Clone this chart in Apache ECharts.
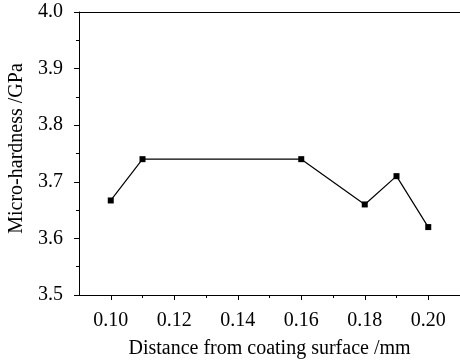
<!DOCTYPE html>
<html>
<head>
<meta charset="utf-8">
<script src="https://cdn.jsdelivr.net/npm/echarts@6/dist/echarts.min.js"></script>
<style>
html,body{margin:0;padding:0;background:#fff;}
#c{width:460px;height:360px;}
</style>
</head>
<body>
<div id="c"></div>
<script>
var distances = [0.10, 0.11, 0.16, 0.18, 0.19, 0.20];
var hardness = [3.667, 3.74, 3.74, 3.66, 3.71, 3.62];
var xMajorTicks = [0.10, 0.12, 0.14, 0.16, 0.18, 0.20];
var xMinorTicks = [0.11, 0.13, 0.15, 0.17, 0.19];
var xTitle = 'Distance from coating surface /mm';
var yTitle = 'Micro-hardness /GPa';

var font = 'Liberation Serif';
var black = '#000';
var chart = echarts.init(document.getElementById('c'), null, {renderer: 'canvas'});
var data = distances.map(function (d, i) { return [d, hardness[i]]; });

chart.setOption({
  animation: false,
  backgroundColor: '#fff',
  grid: {left: 79, right: 0, top: 12, bottom: 65, containLabel: false, outerBoundsMode: 'none'},
  xAxis: [
    {
      type: 'value', min: 0.09, max: 0.21, position: 'bottom',
      axisLine: {show: true, lineStyle: {color: black, width: 1}},
      axisTick: {show: true, length: 5, customValues: xMajorTicks, lineStyle: {color: black}},
      axisLabel: {show: true, customValues: xMajorTicks, margin: 16,
        formatter: function (v) { return v.toFixed(2); },
        fontFamily: font, fontSize: 20, color: black},
      splitLine: {show: false},
      name: xTitle, nameLocation: 'middle', nameGap: 44,
      nameTextStyle: {fontFamily: font, fontSize: 20, color: black}
    },
    {
      type: 'value', min: 0.09, max: 0.21, position: 'bottom',
      axisLine: {show: false},
      axisTick: {show: true, length: 3, customValues: xMinorTicks, lineStyle: {color: black}},
      axisLabel: {show: false},
      splitLine: {show: false}
    },
    {
      type: 'value', min: 0.09, max: 0.21, position: 'top',
      axisLine: {show: true, lineStyle: {color: black, width: 1}},
      axisTick: {show: false},
      axisLabel: {show: false},
      splitLine: {show: false}
    }
  ],
  yAxis: {
    type: 'value', min: 3.5, max: 4.0, interval: 0.1,
    axisLine: {show: true, lineStyle: {color: black, width: 1}},
    axisTick: {show: true, length: 5, lineStyle: {color: black}},
    minorTick: {show: true, splitNumber: 2, length: 3, lineStyle: {color: black}},
    axisLabel: {margin: 16, formatter: function (v) { return v.toFixed(1); },
      fontFamily: font, fontSize: 20, color: black},
    splitLine: {show: false},
    name: yTitle, nameLocation: 'middle', nameGap: 52, nameRotate: 90,
    nameTextStyle: {fontFamily: font, fontSize: 20, color: black, padding: [0, 0, 0, 10]}
  },
  series: [{
    type: 'line', xAxisIndex: 0, data: data,
    symbol: 'rect', symbolSize: 6,
    lineStyle: {color: black, width: 1.2},
    itemStyle: {color: black},
    emphasis: {disabled: true}
  }]
});
</script>
</body>
</html>
